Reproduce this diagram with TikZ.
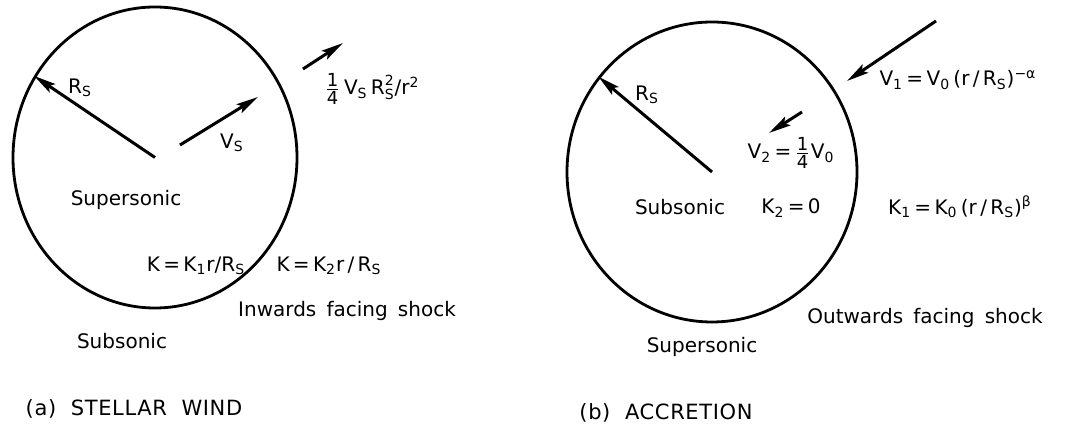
\documentclass[tikz,border=0pt]{standalone}
\usepackage{fontspec}
\setmainfont{DejaVu Sans}[WordSpace=1.6]
\newfontfamily\ttlfont{DejaVu Sans}[LetterSpace=3,WordSpace=2]
\usetikzlibrary{arrows.meta,shapes.geometric}
\newcommand{\qfrac}{\ensuremath{\frac{\mbox{\small 1}}{\mbox{\small 4}}}}
\tikzset{
  shk/.style ={ellipse, draw, line width=1.4pt, inner sep=0pt},
  fl/.style  ={-{Stealth[length=11pt,width=5pt,inset=2pt]}, line width=1.5pt},
  lbl/.style ={font=\fontsize{10}{12}\selectfont, inner sep=0pt},
  ttl/.style ={font=\ttlfont\fontsize{10.5}{12}\selectfont, inner sep=0pt}
}

\begin{document}
\begin{tikzpicture}[x=0.5pt, y=-0.5pt]
  \useasboundingbox (0,0) rectangle (1075,431);

  % (a) stellar wind
  \node[shk,minimum width=142pt,minimum height=150.5pt] (wind) at (155,157.5) {};
  \coordinate (wvs0)  at (180,145);
  \coordinate (wvs1)  at (258,97);
  \coordinate (wout0) at (303,69);
  \coordinate (wout1) at (343,43);
  \draw[fl] (wind.center)--(wind.146);
  \draw[fl] (wvs0)--(wvs1);
  \draw[fl] (wout0)--(wout1);

  \node[lbl] (wrs)  at (80,88)   {R\textsubscript{S}};
  \node[lbl] (wvs)  at (232,143) {V\textsubscript{S}};
  \node[lbl] (wfar) at (372,89)  {\qfrac\,V\textsubscript{S}\,\ensuremath{\mbox{R}^{\mbox{\scriptsize 2}}_{\mbox{\scriptsize S}}}/r\textsuperscript{2}};
  \node[lbl] (wsup) at (126,200) {Supersonic};
  \node[lbl] (wk1)  at (196,266) {K\,=\,K\textsubscript{1}r/R\textsubscript{S}};
  \node[lbl] (wk2)  at (329,266) {K\,=\,K\textsubscript{2}r\,/\,R\textsubscript{S}};
  \node[lbl] (wshk) at (347,311) {Inwards facing shock};
  \node[lbl] (wsub) at (122,341) {Subsonic};
  \node[ttl] (wttl) at (134,409) {(a) STELLAR WIND};

  % (b) accretion
  \node[shk,minimum width=145pt,minimum height=150pt] (accr) at (712,172) {};
  \coordinate (av2a)  at (802,112);
  \coordinate (av2b)  at (769,133);
  \coordinate (aout0) at (936,21);
  \coordinate (aout1) at (847,81);
  \draw[fl] (accr.center)--(accr.140);
  \draw[fl] (av2a)--(av2b);
  \draw[fl] (aout0)--(aout1);

  \node[lbl] (ars)  at (647,95)  {R\textsubscript{S}};
  \node[lbl] (av2)  at (791,153) {V\textsubscript{2}\,=\,\qfrac V\textsubscript{0}};
  \node[lbl] (av1)  at (958,80)  {V\textsubscript{1}\,=\,V\textsubscript{0}\,(r\,/\,R\textsubscript{S})\textsuperscript{−α}};
  \node[lbl] (asub) at (680,207) {Subsonic};
  \node[lbl] (ak2)  at (791,208) {K\textsubscript{2}\,=\,0};
  \node[lbl] (ak1)  at (960,207) {K\textsubscript{1}\,=\,K\textsubscript{0}\,(r\,/\,R\textsubscript{S})\textsuperscript{β}};
  \node[lbl] (ashk) at (925,318) {Outwards facing shock};
  \node[lbl] (asup) at (702,347) {Supersonic};
  \node[ttl] (attl) at (666,413) {(b) ACCRETION};
\end{tikzpicture}
\end{document}
